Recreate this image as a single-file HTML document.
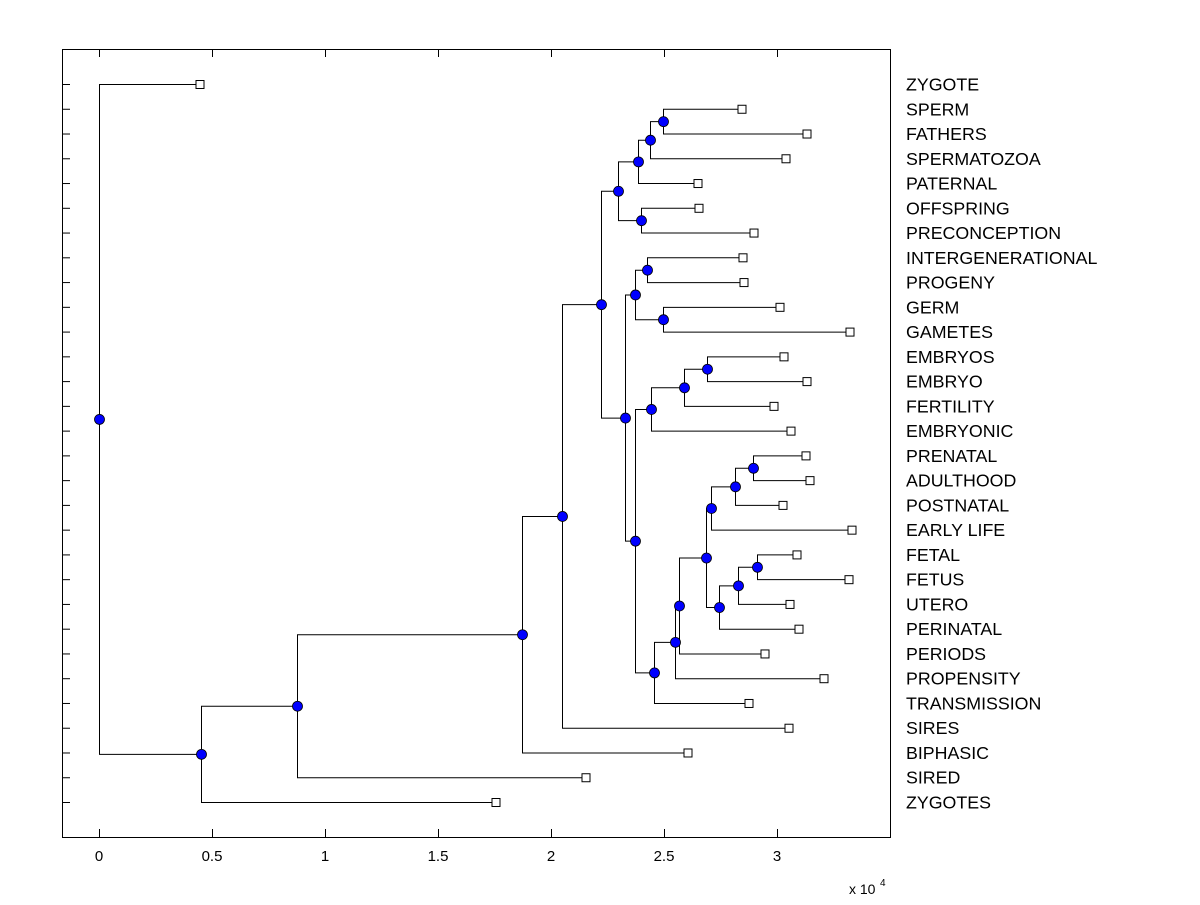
<!DOCTYPE html><html><head><style>body{margin:0;background:#fff}</style></head><body>
<svg id="s" width="1200" height="900" xmlns="http://www.w3.org/2000/svg" font-family="Liberation Sans, sans-serif">
<rect x="62.5" y="49.5" width="828" height="788" fill="#fff" stroke="#000"/>
<g id="g" stroke="#000" fill="none"></g>
<g font-size="15" text-anchor="middle">
<text x="99" y="861">0</text><text x="212" y="861">0.5</text><text x="325" y="861">1</text><text x="438" y="861">1.5</text><text x="551" y="861">2</text><text x="664" y="861">2.5</text><text x="777" y="861">3</text>
</g>
<text x="849" y="894" font-size="14">x 10</text><text x="880" y="886" font-size="10">4</text>
<g id="lab" font-size="17.8"></g>
</svg>
<script>
const names=["ZYGOTE","SPERM","FATHERS","SPERMATOZOA","PATERNAL","OFFSPRING","PRECONCEPTION","INTERGENERATIONAL","PROGENY","GERM","GAMETES","EMBRYOS","EMBRYO","FERTILITY","EMBRYONIC","PRENATAL","ADULTHOOD","POSTNATAL","EARLY LIFE","FETAL","FETUS","UTERO","PERINATAL","PERIODS","PROPENSITY","TRANSMISSION","SIRES","BIPHASIC","SIRED","ZYGOTES"];
const lx=[200,742,807,786,698,699,754,743,744,780,850,784,807,774,791,806,810,783,852,797,849,790,799,765,824,749,789,688,586,496];
const N={};
names.forEach((n,i)=>N[n]={x:lx[i],y:84+i*(802-84)/29,leaf:1});
const defs=[["a",663,"SPERM","FATHERS"],["b",650,"a","SPERMATOZOA"],["c",638,"b","PATERNAL"],["d",641,"OFFSPRING","PRECONCEPTION"],["e",618,"c","d"],["f",647,"INTERGENERATIONAL","PROGENY"],["g",663,"GERM","GAMETES"],["h",635,"f","g"],["i",707,"EMBRYOS","EMBRYO"],["j",684,"i","FERTILITY"],["k",651,"j","EMBRYONIC"],["l",753,"PRENATAL","ADULTHOOD"],["m",735,"l","POSTNATAL"],["n",711,"m","EARLY LIFE"],["o",757,"FETAL","FETUS"],["p",738,"o","UTERO"],["q",719,"p","PERINATAL"],["r",706,"n","q"],["s",679,"r","PERIODS"],["t",675,"s","PROPENSITY"],["u",654,"t","TRANSMISSION"],["v",635,"k","u"],["w",625,"h","v"],["x",601,"e","w"],["y",562,"x","SIRES"],["z",522,"y","BIPHASIC"],["A",297,"z","SIRED"],["B",201,"A","ZYGOTES"],["R",99,"ZYGOTE","B"]];
let L="",D="";
defs.forEach(([id,x,c1,c2])=>{const a=N[c1],b=N[c2];const y=(a.y+b.y)/2;N[id]={x,y};
L+=`<polyline points="${a.x},${a.y+.5} ${x+.5},${a.y+.5} ${x+.5},${b.y+.5} ${b.x},${b.y+.5}"/>`;
D+=`<circle cx="${x+.5}" cy="${y+.5}" r="5" fill="#0000ff" stroke="#000" stroke-width=".8"/>`;});
let S="",T="",tk="";
names.forEach(n=>{const o=N[n];S+=`<rect x="${o.x-4}" y="${o.y-3.5}" width="8" height="8" fill="#fff"/>`;T+=`<text x="906" y="${o.y+6.5}">${n}</text>`;tk+=`<line x1="62" y1="${o.y+.5}" x2="70" y2="${o.y+.5}"/>`;});
[99,212,325,438,551,664,777].forEach(x=>{tk+=`<line x1="${x+.5}" y1="837" x2="${x+.5}" y2="829"/><line x1="${x+.5}" y1="49" x2="${x+.5}" y2="57"/>`});
document.getElementById("g").innerHTML=tk+L+S+D;
document.getElementById("lab").innerHTML=T;
</script>
</body></html>
